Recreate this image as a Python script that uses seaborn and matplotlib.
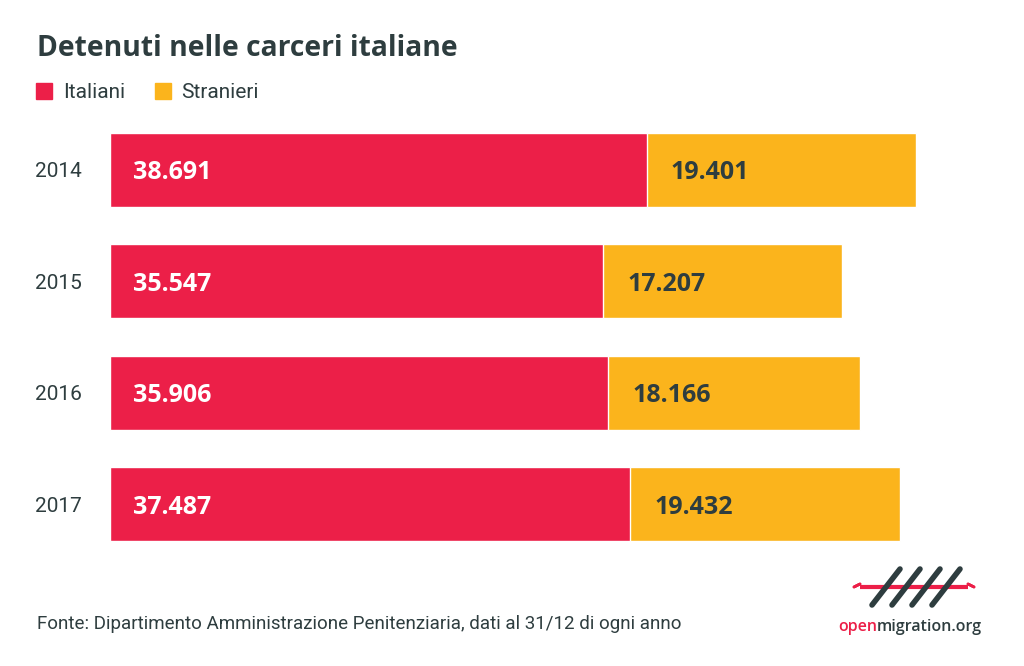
import numpy as np
import pandas as pd
import matplotlib.pyplot as plt
import seaborn as sns
from matplotlib.lines import Line2D

anni = ["2014", "2015", "2016", "2017"]
italiani = [38691, 35547, 35906, 37487]
stranieri = [19401, 17207, 18166, 19432]

rosso = "#EC1F48"
giallo = "#FBB41C"
scuro = "#2E3D3F"

df = pd.DataFrame({"Anno": anni, "Italiani": italiani, "Stranieri": stranieri})
df["Totale"] = df["Italiani"] + df["Stranieri"]

def fmt(v):
    return f"{v:,}".replace(",", ".")

sns.set_theme(style="white")
plt.rcParams["font.family"] = ["Roboto", "DejaVu Sans"]
bold_fam = ["Open Sans", "DejaVu Sans"]

fig = plt.figure(figsize=(10.24, 6.66), dpi=100)
ax = fig.add_axes([110 / 1024, 0.1596, 832.5 / 1024, 0.6688])

# barra totale (gialla) sotto, italiani (rossa) sopra
sns.barplot(data=df, y="Anno", x="Totale", color=giallo, orient="h",
            width=0.667, saturation=1, ax=ax)
sns.barplot(data=df, y="Anno", x="Italiani", color=rosso, orient="h",
            width=0.667, saturation=1, ax=ax)

ax.set_xlim(0, 60000)
ax.set_ylim(3.5, -0.5)
ax.set_xlabel("")
ax.set_ylabel("")
ax.set_xticks([])
ax.tick_params(axis="y", length=0, pad=20, labelsize=15, labelcolor=scuro)
sns.despine(ax=ax, left=True, bottom=True)

for i, row in df.iterrows():
    ax.annotate(fmt(row["Italiani"]), (0, i), xytext=(23, -3), textcoords="offset pixels",
                ha="left", va="center", color="white", fontsize=18,
                fontweight="bold", family=bold_fam)
    ax.annotate(fmt(row["Stranieri"]), (row["Italiani"], i), xytext=(24, -3),
                textcoords="offset pixels", ha="left", va="center", color=scuro,
                fontsize=18, fontweight="bold", family=bold_fam)

# titolo
fig.text(37 / 1024, 1 - 49 / 666, "Detenuti nelle carceri italiane", ha="left", va="center",
         fontsize=20.3, fontweight="bold", color=scuro, family=bold_fam)

# legenda
leg = [Line2D([], [], marker="s", ls="", markersize=11, color=rosso, label="Italiani"),
       Line2D([], [], marker="s", ls="", markersize=11, color=giallo, label="Stranieri")]
fig.legend(handles=leg, loc="center left", bbox_to_anchor=(15 / 1024, 1 - 93 / 666),
           ncol=2, frameon=False, fontsize=15, labelcolor=scuro, handletextpad=0.4,
           columnspacing=1.3, handlelength=1.0)

# fonte
fig.text(37 / 1024, 1 - 624 / 666,
         "Fonte: Dipartimento Amministrazione Penitenziaria, dati al 31/12 di ogni anno",
         ha="left", va="center", fontsize=13.5, color=scuro)

# logo openmigration
lx = fig.add_axes([850 / 1024, 1 - 610 / 666, 130 / 1024, 45 / 666])
lx.set_xlim(0, 130)
lx.set_ylim(45, 0)
lx.axis("off")
lx.plot([10, 118], [22, 22], color=rosso, lw=3, solid_capstyle="butt")
lx.plot([4, 10, 4], [22, 19, 22], color=rosso, lw=2)
lx.plot([124, 118, 124], [22, 19, 22], color=rosso, lw=2)
for s in [36, 56, 76, 96]:
    lx.plot([s - 14, s + 14], [40, 4], color=scuro, lw=4, solid_capstyle="round")
t1 = fig.text(838 / 1024, 1 - 627 / 666, "open", ha="left", va="center", fontsize=11.5,
              fontweight="semibold", color=rosso, family=bold_fam)
fig.canvas.draw()
bb = t1.get_window_extent()
fig.text(bb.x1 / 1024, 1 - 627 / 666, "migration.org", ha="left", va="center", fontsize=11.5,
         fontweight="semibold", color=scuro, family=bold_fam)

fig.savefig("out.png", dpi=100)
